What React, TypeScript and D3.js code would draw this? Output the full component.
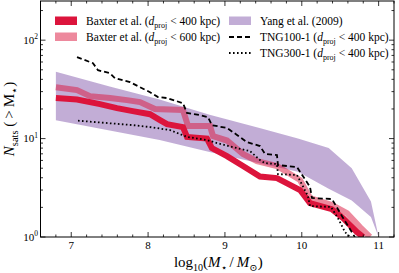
import React from "react";
import * as d3 from "d3";

// Yang et al. (2009) band
const yangMass = [6.8, 7.5, 8.15, 8.8, 9.45, 9.95, 10.35, 10.65, 10.9, 11.0];
const yangUpper = [47.7, 33.9, 25.0, 17.5, 12.8, 10.0, 8.0, 5.0, 2.3, 1.0];
const yangLower = [15.4, 12.1, 9.7, 7.3, 5.6, 4.6, 3.1, 2.35, 1.6, 1.0];

// Baxter et al. d_proj < 400 kpc
const bax400Mass = [6.8, 7.075, 7.374, 7.595, 7.8, 8.025, 8.155, 8.246, 8.454, 8.506, 8.767, 8.83, 9.026, 9.235, 9.456, 9.677, 9.977, 10.107, 10.39, 10.535, 10.72, 10.8];
const bax400N = [25.8, 24.9, 22.4, 20.4, 19.0, 17.7, 15.4, 14.0, 13.1, 10.4, 10.0, 8.0, 6.64, 5.26, 4.11, 3.97, 3.0, 2.21, 1.92, 1.56, 1.12, 1.0];

// Baxter et al. d_proj < 600 kpc
const bax600Mass = [6.8, 7.075, 7.244, 7.504, 7.726, 7.895, 8.09, 8.454, 8.52, 8.806, 8.845, 9.027, 9.235, 9.417, 9.677, 9.977, 10.107, 10.393, 10.588, 10.757, 10.887];
const bax600N = [33.3, 31.1, 27.0, 25.8, 24.6, 23.5, 20.0, 19.5, 13.4, 13.4, 10.6, 9.55, 6.97, 5.91, 5.26, 3.79, 2.49, 2.11, 1.75, 1.26, 1.0];

// TNG100-1
const tng100Mass = [7.075, 7.283, 7.348, 7.504, 7.569, 7.765, 7.895, 8.025, 8.129, 8.246, 8.454, 8.506, 8.675, 8.78, 8.83, 9.027, 9.157, 9.287, 9.456, 9.52, 9.677, 9.69, 9.938, 10.107, 10.133, 10.393, 10.523, 10.69];
const tng100N = [67.2, 58.4, 49.5, 46.2, 41.1, 37.5, 33.3, 29.6, 26.4, 25.8, 22.9, 18.2, 17.3, 16.5, 13.7, 12.8, 10.9, 9.2, 8.4, 7.0, 6.8, 5.38, 5.14, 3.22, 2.49, 2.43, 1.63, 1.0];

// TNG300-1
const tng300Mass = [7.088, 7.8, 8.025, 8.285, 8.506, 8.767, 8.897, 9.157, 9.326, 9.456, 9.521, 9.677, 9.69, 9.938, 10.08, 10.107, 10.38, 10.47, 10.563, 10.628];
const tng300N = [15.2, 13.7, 13.1, 12.2, 10.4, 9.66, 9.0, 8.0, 7.47, 6.05, 5.64, 5.51, 4.36, 4.26, 2.61, 2.06, 2.02, 1.56, 1.12, 1.0];

const xTicks = [7, 8, 9, 10, 11];
const yTicks = [1, 10, 100];
const yTickExp = ["0", "1", "2"];

const W = 399;
const H = 273;
const L = 40.5, R = 394, T = 1, B = 237;
const FONT = "'Liberation Serif', 'DejaVu Serif', serif";

const RED = "#dc143c";
const PURPLE = "rebeccapurple";

const x = d3.scaleLinear().domain([6.6, 11.2]).range([L, R]);
const y = d3.scaleLog().domain([1, 250]).range([B, T]);

const line = d3.line<[number, number]>().x(d => x(d[0])).y(d => y(d[1]));
const zip = (a: number[], b: number[]) => a.map((m, i) => [m, b[i]] as [number, number]);

const yangArea = d3.area<number>()
  .x((d, i) => x(yangMass[i]))
  .y0((d, i) => y(yangLower[i]))
  .y1((d, i) => y(yangUpper[i]));

const xMinor = d3.range(34, 57).map(i => i / 5).filter(v => Math.abs(v - Math.round(v)) > 1e-6);
const yMinor: number[] = [];
[1, 10, 100].forEach(k => d3.range(2, 10).forEach(j => { if (j * k <= 250) yMinor.push(j * k); }));

const LEG = 11.5;

const DLabel = ({ x0, y0, pre, dist }: { x0: number; y0: number; pre: string; dist: string }) => (
  <text x={x0} y={y0} fontSize={LEG} fontFamily={FONT}>
    {pre} (<tspan fontStyle="italic">d</tspan>
    <tspan dy={2.5} fontSize={8}>proj</tspan>
    <tspan dy={-2.5}> &lt; {dist} kpc)</tspan>
  </text>
);

export default function App() {
  const maj = 5, mnr = 2.5;
  return (
    <svg width={W} height={H} style={{ position: "absolute", left: 0, top: 0, background: "white" }}>
      <defs>
        <clipPath id="plot">
          <rect x={L} y={T} width={R - L} height={B - T} />
        </clipPath>
      </defs>

      <g clipPath="url(#plot)">
        <path d={yangArea(yangMass) || ""} fill={PURPLE} fillOpacity={0.4} />
        <path d={line(zip(bax600Mass, bax600N)) || ""} fill="none" stroke={RED} strokeOpacity={0.5} strokeWidth={6} />
        <path d={line(zip(bax400Mass, bax400N)) || ""} fill="none" stroke={RED} strokeWidth={6} />
        <path d={line(zip(tng100Mass, tng100N)) || ""} fill="none" stroke="black" strokeWidth={1.8} strokeDasharray="5,3" />
        <path d={line(zip(tng300Mass, tng300N)) || ""} fill="none" stroke="black" strokeWidth={1.8} strokeDasharray="1.6,2.4" />
      </g>

      {/* ticks */}
      <g stroke="black" strokeWidth={0.8}>
        {xTicks.map(v => (
          <g key={"xt" + v}>
            <line x1={x(v)} x2={x(v)} y1={B} y2={B - maj} />
            <line x1={x(v)} x2={x(v)} y1={T} y2={T + maj} />
          </g>
        ))}
        {xMinor.map(v => (
          <g key={"xm" + v}>
            <line x1={x(v)} x2={x(v)} y1={B} y2={B - mnr} />
            <line x1={x(v)} x2={x(v)} y1={T} y2={T + mnr} />
          </g>
        ))}
        {yTicks.map(v => (
          <g key={"yt" + v}>
            <line x1={L} x2={L + maj} y1={y(v)} y2={y(v)} />
            <line x1={R} x2={R - maj} y1={y(v)} y2={y(v)} />
          </g>
        ))}
        {yMinor.map(v => (
          <g key={"ym" + v}>
            <line x1={L} x2={L + mnr} y1={y(v)} y2={y(v)} />
            <line x1={R} x2={R - mnr} y1={y(v)} y2={y(v)} />
          </g>
        ))}
      </g>
      <rect x={L} y={T} width={R - L} height={B - T} fill="none" stroke="black" strokeWidth={1} />

      {/* tick labels */}
      {xTicks.map(v => (
        <text key={"xl" + v} x={x(v)} y={249} textAnchor="middle" fontSize={11} fontFamily={FONT}>{v}</text>
      ))}
      {yTicks.map((v, i) => (
        <text key={"yl" + v} x={38} y={y(v) + 3.5} textAnchor="end" fontSize={11} fontFamily={FONT}>
          10<tspan dy={-4.5} fontSize={7.5}>{yTickExp[i]}</tspan>
        </text>
      ))}

      {/* axis labels */}
      <text x={(L + R) / 2 + 1} y={267} textAnchor="middle" fontSize={15} fontFamily={FONT}>
        log<tspan dy={3.5} fontSize={10}>10</tspan>
        <tspan dy={-3.5}>(</tspan>
        <tspan fontStyle="italic">M</tspan>
        <tspan dy={3.5} fontSize={10}>⋆</tspan>
        <tspan dy={-3.5}>{"\u2009/\u2009"}</tspan>
        <tspan fontStyle="italic">M</tspan>
        <tspan dy={3.5} fontSize={10}>⊙</tspan>
        <tspan dy={-3.5}>)</tspan>
      </text>
      <text transform={`translate(14,${(T + B) / 2}) rotate(-90)`} textAnchor="middle" fontSize={15} fontFamily={FONT}>
        <tspan fontStyle="italic">N</tspan>
        <tspan dy={3.5} fontSize={10.5}>sats</tspan>
        <tspan dy={-3.5}>{" (\u2009>\u2009M"}</tspan>
        <tspan dy={3.5} fontSize={10.5}>⋆</tspan>
        <tspan dy={-3.5}>)</tspan>
      </text>

      {/* legend */}
      <rect x={55} y={16.5} width={22} height={8.5} fill={RED} />
      <DLabel x0={86} y0={25} pre="Baxter et al." dist="400" />
      <rect x={55} y={32.5} width={22} height={8.5} fill={RED} fillOpacity={0.5} />
      <DLabel x0={86} y0={41} pre="Baxter et al." dist="600" />
      <rect x={229} y={16.5} width={22} height={8.5} fill={PURPLE} fillOpacity={0.4} />
      <text x={260} y={25} fontSize={LEG} fontFamily={FONT}>Yang et al. (2009)</text>
      <line x1={229} x2={251} y1={37} y2={37} stroke="black" strokeWidth={1.8} strokeDasharray="5,3" />
      <DLabel x0={260} y0={41} pre="TNG100-1" dist="400" />
      <line x1={229} x2={251} y1={53} y2={53} stroke="black" strokeWidth={1.8} strokeDasharray="1.6,2.4" />
      <DLabel x0={260} y0={57} pre="TNG300-1" dist="400" />
    </svg>
  );
}
